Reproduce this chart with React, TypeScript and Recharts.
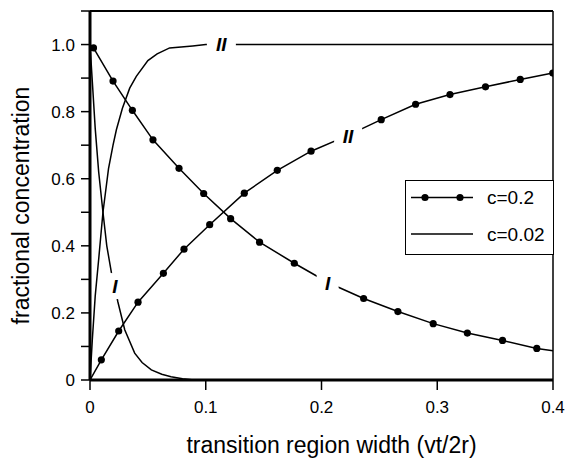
import React from 'react';
import { LineChart, Line, XAxis, YAxis, ReferenceLine, ReferenceDot, Legend } from 'recharts';

// c = 0.2 (with markers)
const fallC20X = [0.003, 0.0199, 0.0366, 0.0544, 0.0769, 0.0982, 0.1215, 0.1465, 0.1765, 0.206, 0.2364, 0.266, 0.2965, 0.326, 0.3564, 0.386, 0.4];
const fallC20Y = [0.99, 0.891, 0.804, 0.716, 0.631, 0.556, 0.481, 0.411, 0.348, 0.29, 0.243, 0.204, 0.168, 0.14, 0.118, 0.094, 0.087];
const fallC20Mark = [1, 1, 1, 1, 1, 1, 1, 1, 1, 0, 1, 1, 1, 1, 1, 1, 0];

const riseC20X = [0, 0.0098, 0.0248, 0.0415, 0.0634, 0.0812, 0.1034, 0.1333, 0.1618, 0.191, 0.2214, 0.2516, 0.2813, 0.311, 0.3417, 0.3717, 0.3998];
const riseC20Y = [0, 0.06, 0.146, 0.232, 0.318, 0.39, 0.463, 0.557, 0.625, 0.682, 0.727, 0.776, 0.822, 0.851, 0.874, 0.896, 0.915];
const riseC20Mark = [0, 1, 1, 1, 1, 1, 1, 1, 1, 1, 0, 1, 1, 1, 1, 1, 1];

// c = 0.02 (plain line)
const fallC02X = [0, 0.002, 0.0045, 0.0075, 0.0112, 0.0145, 0.0185, 0.0214, 0.024, 0.03, 0.0386, 0.045, 0.053, 0.062, 0.07, 0.08, 0.09];
const fallC02Y = [1.0, 0.89, 0.75, 0.62, 0.5, 0.4, 0.32, 0.28, 0.234, 0.15, 0.08, 0.052, 0.03, 0.017, 0.01, 0.004, 0];

const riseC02X = [0, 0.002, 0.0045, 0.0075, 0.0112, 0.016, 0.0199, 0.0228, 0.028, 0.0343, 0.04, 0.05, 0.058, 0.0688, 0.0887, 0.1, 0.4];
const riseC02Y = [0, 0.12, 0.25, 0.36, 0.5, 0.63, 0.7, 0.746, 0.81, 0.87, 0.905, 0.952, 0.972, 0.99, 0.996, 1.0, 1.0];

const xTicks = [0, 0.1, 0.2, 0.3, 0.4];
const yTicks = [0, 0.1, 0.2, 0.3, 0.4, 0.5, 0.6, 0.7, 0.8, 0.9, 1.0, 1.1];
const yLabelled = ['0', '0.2', '0.4', '0.6', '0.8', '1.0'];

const curveLabels = [
  { text: 'II', x: 0.1135, y: 1.0, w: 29, h: 14 },
  { text: 'II', x: 0.223, y: 0.727, w: 28, h: 18 },
  { text: 'I', x: 0.2053, y: 0.289, w: 22, h: 18 },
  { text: 'I', x: 0.0216, y: 0.28, w: 11, h: 26 },
];

const seriesNames = ['c=0.2', 'c=0.02'];

const build = (xs: number[], ys: number[], marks?: number[]) =>
  xs.map((x, i) => ({ x, y: ys[i], m: marks ? marks[i] === 1 : false }));

const fallC20 = build(fallC20X, fallC20Y, fallC20Mark);
const riseC20 = build(riseC20X, riseC20Y, riseC20Mark);
const fallC02 = build(fallC02X, fallC02Y);
const riseC02 = build(riseC02X, riseC02Y);

const FONT = '"Liberation Sans", Arial, sans-serif';

const renderDot = (p: any) =>
  p.payload && p.payload.m ? (
    <circle key={`d${p.index}`} cx={p.cx} cy={p.cy} r={3.6} fill="#000" stroke="none" />
  ) : (
    <g key={`d${p.index}`} />
  );

const yTickFmt = (v: number) => {
  const s = v === 0 ? '0' : v.toFixed(1);
  return yLabelled.includes(s) ? s : '';
};
const xTickFmt = (v: number) => (v === 0 ? '0' : v.toFixed(1));

const makeLabelShape = (text: string, w: number, h: number) => (p: any) => (
  <g>
    <rect x={p.cx - w / 2} y={p.cy - h / 2} width={w} height={h} fill="#fff" />
    <text
      x={p.cx}
      y={p.cy}
      dy="0.36em"
      textAnchor="middle"
      fontFamily={FONT}
      fontWeight="bold"
      fontStyle="italic"
      fontSize={19}
      fill="#000"
    >
      {text}
    </text>
  </g>
);

const LegendBox = () => (
  <div
    style={{
      width: 149,
      height: 75,
      boxSizing: 'border-box',
      border: '1.5px solid #000',
      background: '#fff',
    }}
  >
    <svg width={146} height={72} style={{ display: 'block' }}>
      <line x1={5} y1={16.5} x2={67} y2={16.5} stroke="#000" strokeWidth={1.5} />
      <circle cx={19} cy={16.5} r={3.6} fill="#000" />
      <circle cx={54} cy={16.5} r={3.6} fill="#000" />
      <text x={81} y={16.5} dy="0.36em" fontFamily={FONT} fontSize={19} fill="#000">
        {seriesNames[0]}
      </text>
      <line x1={5} y1={53} x2={67} y2={53} stroke="#000" strokeWidth={1.5} />
      <text x={81} y={53} dy="0.36em" fontFamily={FONT} fontSize={19} fill="#000">
        {seriesNames[1]}
      </text>
    </svg>
  </div>
);

const XTitle = (props: any) => {
  const vb = props.viewBox || {};
  const cx = (vb.x || 0) + (vb.width || 0) / 2 + 10;
  return (
    <text x={cx} y={453} textAnchor="middle" fontFamily={FONT} fontSize={23} fill="#000">
      transition region width (vt/2r)
    </text>
  );
};

const YTitle = (props: any) => {
  const vb = props.viewBox || {};
  const cy = (vb.y || 0) + (vb.height || 0) / 2 + 10;
  const cx = 21;
  return (
    <text
      x={cx}
      y={cy}
      dy="0.36em"
      textAnchor="middle"
      transform={`rotate(-90 ${cx} ${cy})`}
      fontFamily={FONT}
      fontSize={23}
      fill="#000"
    >
      fractional concentration
    </text>
  );
};

export default function App() {
  return (
    <div style={{ position: 'absolute', left: 0, top: 0, width: 569, height: 459, background: '#fff' }}>
      <LineChart width={569} height={459} margin={{ top: 11, right: 16, bottom: 0, left: 0 }}>
        <XAxis
          type="number"
          dataKey="x"
          domain={[0, 0.4]}
          ticks={xTicks}
          tickFormatter={xTickFmt}
          height={79}
          tickSize={10}
          tickMargin={11}
          allowDataOverflow
          axisLine={{ stroke: '#000', strokeWidth: 3 }}
          tickLine={{ stroke: '#000', strokeWidth: 1.5 }}
          tick={{ fill: '#000', fontSize: 17, fontFamily: FONT }}
          label={<XTitle />}
        />
        <YAxis
          type="number"
          dataKey="y"
          domain={[0, 1.1]}
          ticks={yTicks}
          tickFormatter={yTickFmt}
          width={90}
          tickSize={9}
          tickMargin={6}
          allowDataOverflow
          interval={0}
          axisLine={{ stroke: '#000', strokeWidth: 3 }}
          tickLine={{ stroke: '#000', strokeWidth: 1.5 }}
          tick={{ fill: '#000', fontSize: 17, fontFamily: FONT }}
          label={<YTitle />}
        />
        <ReferenceLine y={1.1} stroke="#000" strokeWidth={2} />
        <ReferenceLine x={0.4} stroke="#000" strokeWidth={1.5} />
        <Line data={fallC02} dataKey="y" type="linear" stroke="#000" strokeWidth={1.5} dot={false} isAnimationActive={false} legendType="none" />
        <Line data={riseC02} dataKey="y" type="linear" stroke="#000" strokeWidth={1.5} dot={false} isAnimationActive={false} legendType="none" />
        <Line data={fallC20} dataKey="y" type="linear" stroke="#000" strokeWidth={1.5} dot={renderDot} isAnimationActive={false} legendType="none" />
        <Line data={riseC20} dataKey="y" type="linear" stroke="#000" strokeWidth={1.5} dot={renderDot} isAnimationActive={false} legendType="none" />
        {curveLabels.map((l, i) => (
          <ReferenceDot key={i} x={l.x} y={l.y} r={1} shape={makeLabelShape(l.text, l.w, l.h)} />
        ))}
        <Legend
          layout="horizontal"
          verticalAlign="middle"
          align="center"
          content={<LegendBox />}
          wrapperStyle={{ position: 'absolute', left: 405, top: 180, width: 149, height: 75 }}
        />
      </LineChart>
    </div>
  );
}
